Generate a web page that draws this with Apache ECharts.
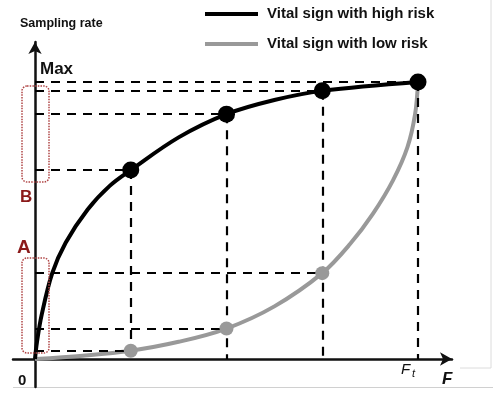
<!DOCTYPE html>
<html><head><meta charset="utf-8">
<script src="https://cdn.jsdelivr.net/npm/echarts@6/dist/echarts.min.js"></script>
<style>html,body{margin:0;padding:0;background:#fff}#c{width:493px;height:397px}</style>
</head><body><div id="c"></div>
<script>
// ---- data ----
const seriesNames = ['Vital sign with high risk', 'Vital sign with low risk'];
const sampleF = [1, 2, 3, 4];
const highRiskRate = [0.682, 0.884, 0.968, 1.0];
const lowRiskRate = [0.03, 0.11, 0.31, 1.0];
const highCurveF = [0, 0.02, 0.07, 0.18, 0.32, 0.55, 0.78, 1.0, 1.5, 2.0, 2.5, 3.0, 4.0];
const highCurveRate = [0, 0.06, 0.16, 0.31, 0.42, 0.54, 0.625, 0.682, 0.80, 0.884, 0.935, 0.968, 1.0];
const lowCurveF = [0, 0.5, 1.0, 1.5, 2.0, 2.5, 3.0, 3.29, 3.53, 3.74, 3.89, 3.97, 4.0];
const lowCurveRate = [0, 0.012, 0.03, 0.062, 0.11, 0.19, 0.31, 0.415, 0.525, 0.646, 0.765, 0.885, 1.0];
const yAxisTitle = 'Sampling rate';
const yTickLabels = ['0', 'Max'];
const xTickLabels = ['F', 't', 'F'];
const zoneLabels = ['A', 'B'];

// ---- build ----
const FONT = '"Liberation Sans", Arial, sans-serif';
const zip = (a, b) => a.map((v, i) => [v, b[i]]);
const dash = {type: [9, 7], color: '#000', width: 2.2, opacity: 1};
const markLines = [];
sampleF.forEach((f, i) => {
  const h = highRiskRate[i];
  markLines.push([{coord: [0, h]}, {coord: [f, h]}]);
  markLines.push([{coord: [f, h]}, {coord: [f, 0]}]);
  if (lowRiskRate[i] < h) markLines.push([{coord: [0, lowRiskRate[i]]}, {coord: [f, lowRiskRate[i]]}]);
});

const chart = echarts.init(document.getElementById('c'), null, {renderer: 'canvas'});
const axisCommon = {
  type: 'value',
  axisLine: {show: true, onZero: true, symbol: ['none', 'arrow'], symbolSize: [10, 12], lineStyle: {color: '#111', width: 2.5}},
  axisTick: {show: false}, axisLabel: {show: false}, splitLine: {show: false}
};
chart.setOption({
  animation: false,
  backgroundColor: '#fff',
  grid: {left: 13, right: 41, top: 42, bottom: 10},
  xAxis: Object.assign({}, axisCommon, {min: -0.2298, max: 4.355}),
  yAxis: Object.assign({}, axisCommon, {min: -0.1011, max: 1.1444}),
  legend: {
    data: seriesNames, orient: 'vertical', left: 205, top: 6, padding: 0,
    icon: 'rect', itemWidth: 53, itemHeight: 4, itemGap: 14,
    textStyle: {fontSize: 15, fontWeight: 'bold', color: '#111', fontFamily: FONT, lineHeight: 16, padding: [0, 0, 0, 4]}
  },
  series: [
    {type: 'line', name: 'guides', data: [], z: 1, silent: true,
     markLine: {silent: true, symbol: ['none', 'none'], label: {show: false}, lineStyle: dash,
                emphasis: {disabled: true}, data: markLines}},
    {type: 'line', name: seriesNames[1], data: zip(lowCurveF, lowCurveRate), smooth: 0.35,
     showSymbol: false, color: '#999', lineStyle: {color: '#999', width: 4}, z: 3},
    {type: 'line', name: seriesNames[0], data: zip(highCurveF, highCurveRate), smooth: 0.35,
     showSymbol: false, color: '#000', lineStyle: {color: '#000', width: 4}, z: 4},
    {type: 'scatter', name: 'lowDots', data: zip(sampleF.slice(0, 3), lowRiskRate.slice(0, 3)), symbolSize: 14,
     itemStyle: {color: '#999', opacity: 1}, z: 5},
    {type: 'scatter', name: 'highDots', data: zip(sampleF, highRiskRate), symbolSize: 17,
     itemStyle: {color: '#000', opacity: 1}, z: 6}
  ],
  graphic: [
    {type: 'text', left: 20, top: 17, style: {text: yAxisTitle, font: 'bold 12.5px ' + FONT, fill: '#111'}},
    {type: 'text', left: 40, top: 61, style: {text: yTickLabels[1], font: 'bold 17px ' + FONT, fill: '#111'}},
    {type: 'text', left: 18, top: 373, style: {text: yTickLabels[0], font: 'bold 15px ' + FONT, fill: '#111'}},
    {type: 'text', left: 17, top: 238, style: {text: zoneLabels[0], font: 'bold 19px ' + FONT, fill: '#8b1a1a'}},
    {type: 'text', left: 20, top: 189, style: {text: zoneLabels[1], font: 'bold 17px ' + FONT, fill: '#8b1a1a'}},
    {type: 'text', left: 401, top: 362, style: {text: xTickLabels[0], font: 'italic 15px ' + FONT, fill: '#111'}},
    {type: 'text', left: 412, top: 368, style: {text: xTickLabels[1], font: 'italic 11px ' + FONT, fill: '#111'}},
    {type: 'text', left: 442, top: 371, style: {text: xTickLabels[2], font: 'italic bold 17px ' + FONT, fill: '#111'}},
    {type: 'rect', shape: {x: 22, y: 86, width: 27, height: 96, r: 5}, style: {fill: 'none', stroke: '#b04545', lineWidth: 1.5, lineDash: [1.5, 1.2]}, z: 10},
    {type: 'rect', shape: {x: 22, y: 258, width: 27, height: 95, r: 5}, style: {fill: 'none', stroke: '#b04545', lineWidth: 1.5, lineDash: [1.5, 1.2]}, z: 10},
    {type: 'line', shape: {x1: 491, y1: 0, x2: 491, y2: 368}, style: {stroke: '#dcdcdc', lineWidth: 1}},
    {type: 'line', shape: {x1: 460, y1: 368, x2: 491, y2: 368}, style: {stroke: '#dcdcdc', lineWidth: 1}},
    {type: 'line', shape: {x1: 13, y1: 387.5, x2: 493, y2: 387.5}, style: {stroke: '#d0d0d0', lineWidth: 1}}
  ]
});
</script>
</body></html>
